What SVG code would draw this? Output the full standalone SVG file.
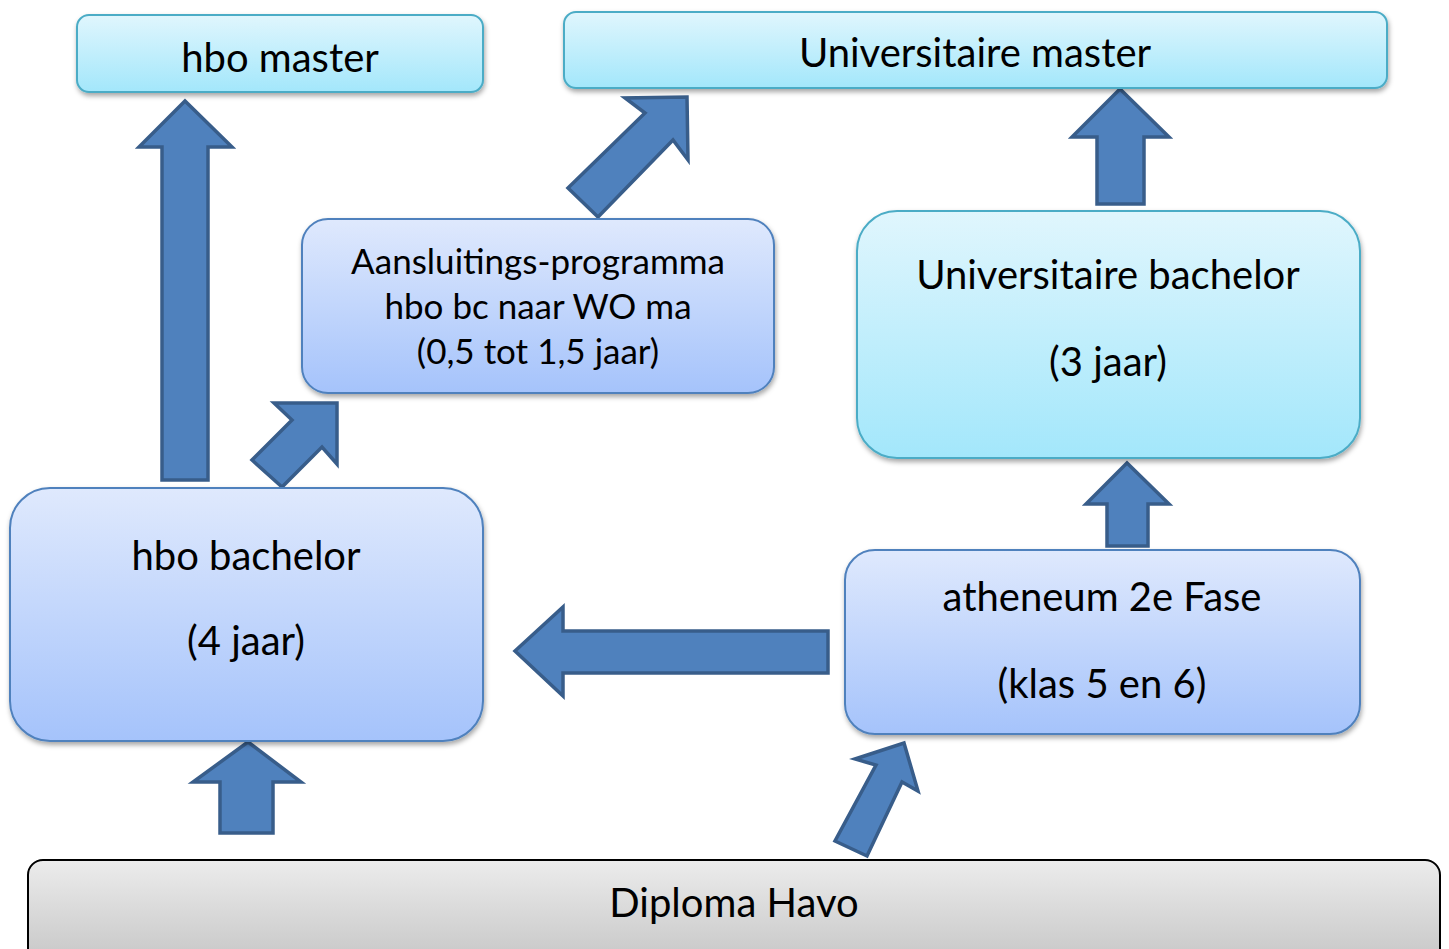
<svg xmlns="http://www.w3.org/2000/svg" width="1449" height="949" viewBox="0 0 1449 949">
<defs>
<linearGradient id="gCyan" x1="0" y1="0" x2="0" y2="1"><stop offset="0" stop-color="#e0f6fd"/><stop offset="1" stop-color="#a3e7fb"/></linearGradient>
<linearGradient id="gBlue" x1="0" y1="0" x2="0" y2="1"><stop offset="0" stop-color="#dfe9fd"/><stop offset="1" stop-color="#a5c3fb"/></linearGradient>
<linearGradient id="gGray" x1="0" y1="0" x2="0" y2="1"><stop offset="0" stop-color="#ececec"/><stop offset="1" stop-color="#c4c4c4"/></linearGradient>
<filter id="sh" x="-5%" y="-5%" width="110%" height="120%"><feDropShadow dx="1" dy="3" stdDeviation="2.5" flood-color="#000" flood-opacity="0.35"/></filter>
</defs>
<style>
.cy{fill:url(#gCyan);stroke:#4bacc6;stroke-width:2;filter:url(#sh)}
.bl{fill:url(#gBlue);stroke:#4f81bd;stroke-width:2;filter:url(#sh)}
.gr{fill:url(#gGray);stroke:#000;stroke-width:2}
.ar{fill:#4f81bd;stroke:#385d8a;stroke-width:3.5;stroke-linejoin:miter}
text{font-family:Lato,"Open Sans","Liberation Sans",sans-serif;fill:#000;text-anchor:middle}
.t1{font-size:40px}
.t2{font-size:35px}
</style>
<rect width="1449" height="949" fill="#fff"/>
<g id="connectors">
<polygon class="ar" points="162,480 208,480 208,147 232,147 185,101 139,147 162,147"/>
<polygon class="ar" points="282,487 252,460 292,420 274,403 337,403 337,464 322,447"/>
<polygon class="ar" points="598,217 568,188 645,113 625,98 687,97 688,160 673,140"/>
<polygon class="ar" points="1097,204 1144,204 1144,137 1169,137 1120,89 1072,137 1097,137"/>
<polygon class="ar" points="1107,546 1148,546 1148,504 1169,504 1127,463 1086,504 1107,504"/>
<polygon class="ar" points="828,631 828,673 563,673 563,696 515,651 563,607 563,631"/>
<polygon class="ar" points="220,833 273,833 273,782 301,782 248,742 193,782 220,782"/>
<polygon class="ar" points="867,856 835,841 876,765 855,759 904,743 918,791 902,782"/>
</g>
<g id="hbo-master"><rect class="cy" x="77" y="15" width="406" height="77" rx="12"/><text class="t1" x="280" y="72">hbo master</text></g>
<g id="univ-master"><rect class="cy" x="564" y="12" width="823" height="76" rx="12"/><text class="t1" x="975" y="67">Universitaire master</text></g>
<g id="aansluiting"><rect class="bl" x="302" y="219" width="472" height="174" rx="26"/><text class="t2" x="538" y="274">Aansluitings-programma</text><text class="t2" x="538" y="319">hbo bc naar WO ma</text><text class="t2" x="538" y="364">(0,5 tot 1,5 jaar)</text></g>
<g id="univ-bachelor"><rect class="cy" x="857" y="211" width="503" height="247" rx="40"/><text class="t1" x="1108" y="289">Universitaire bachelor</text><text class="t1" x="1108" y="376">(3 jaar)</text></g>
<g id="hbo-bachelor"><rect class="bl" x="10" y="488" width="473" height="253" rx="40"/><text class="t1" x="246" y="570">hbo bachelor</text><text class="t1" x="246" y="655">(4 jaar)</text></g>
<g id="atheneum"><rect class="bl" x="845" y="550" width="515" height="184" rx="30"/><text class="t1" x="1102" y="611">atheneum 2e Fase</text><text class="t1" x="1102" y="698">(klas 5 en 6)</text></g>
<g id="diploma"><rect class="gr" x="28" y="860" width="1412" height="110" rx="15"/><text class="t1" x="734" y="917">Diploma Havo</text></g>
</svg>
